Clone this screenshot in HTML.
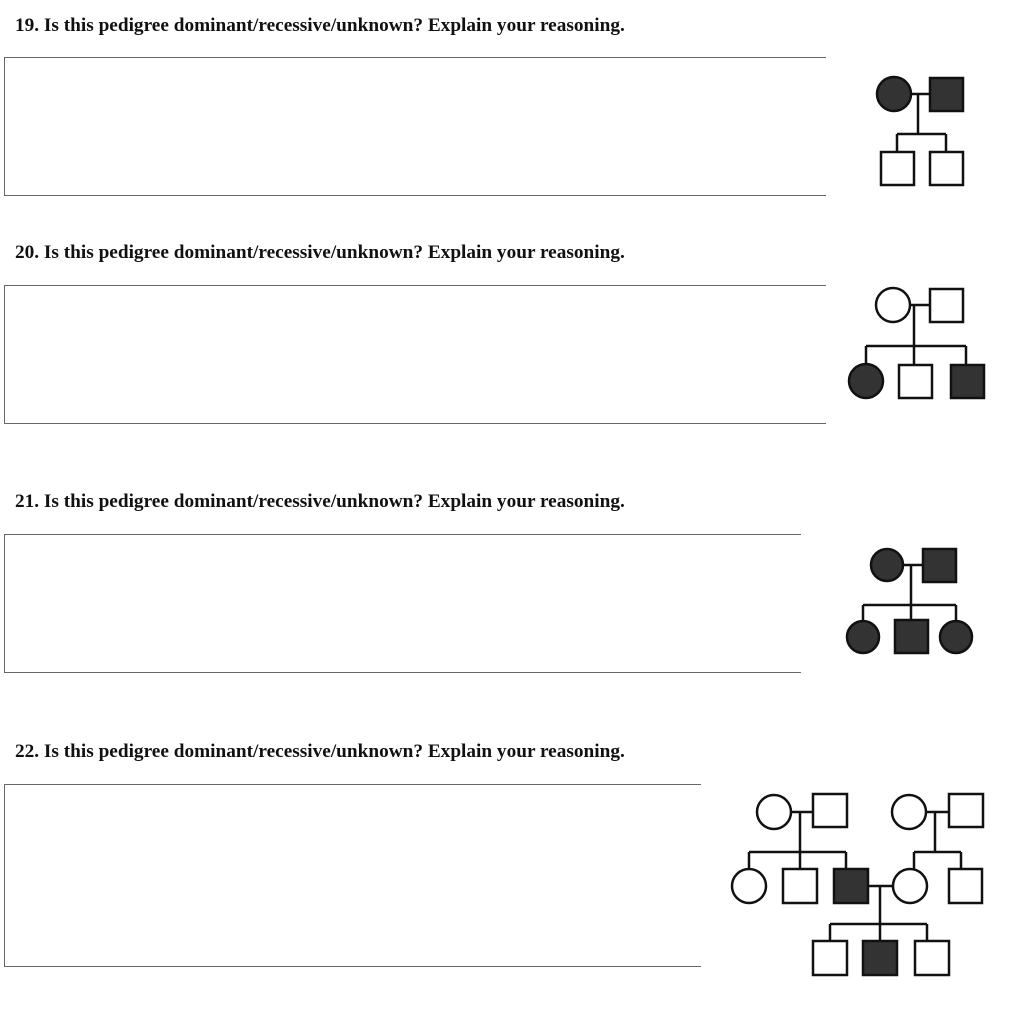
<!DOCTYPE html>
<html><head><style>
body{margin:0;background:#fff;width:1024px;height:1013px;overflow:hidden;position:relative;font-family:"Liberation Serif",serif;}
.q{position:absolute;left:15px;font-weight:bold;font-size:19.3px;line-height:22px;color:#111;white-space:nowrap;}
.b{position:absolute;left:4px;border-top:1px solid #666;border-bottom:1px solid #666;border-left:1px solid #666;}
svg{position:absolute;left:0;top:0;}
</style></head><body>
<div class="q" style="top:15px">19. Is this pedigree dominant/recessive/unknown? Explain your reasoning.</div>
<div class="b" style="top:57px;width:821px;height:137px"></div>
<div class="q" style="top:242px">20. Is this pedigree dominant/recessive/unknown? Explain your reasoning.</div>
<div class="b" style="top:285px;width:821px;height:137px"></div>
<div class="q" style="top:491px">21. Is this pedigree dominant/recessive/unknown? Explain your reasoning.</div>
<div class="b" style="top:534px;width:796px;height:137px"></div>
<div class="q" style="top:741px">22. Is this pedigree dominant/recessive/unknown? Explain your reasoning.</div>
<div class="b" style="top:784px;width:696px;height:181px"></div>
<svg width="1024" height="1013" stroke="#111" stroke-width="2.5" fill="none">
<path d="M911 94H929M918 94V134M897 134H946M897 134V151M946 134V151"/>
<circle cx="894" cy="94" r="17" fill="#333"/>
<rect x="930" y="78" width="33" height="33" fill="#333"/>
<rect x="881" y="152" width="33" height="33" fill="#fff"/>
<rect x="930" y="152" width="33" height="33" fill="#fff"/>
<path d="M910 305H929M914 305V346M866 346H966M866 346V364M914 346V364M966 346V364"/>
<circle cx="893" cy="305" r="17" fill="#fff"/>
<rect x="930" y="289" width="33" height="33" fill="#fff"/>
<circle cx="866" cy="381" r="17" fill="#333"/>
<rect x="899" y="365" width="33" height="33" fill="#fff"/>
<rect x="951" y="365" width="33" height="33" fill="#333"/>
<path d="M903 565H923M911 565V605M863 605H956M863 605V620M911 605V620M956 605V620"/>
<circle cx="887" cy="565" r="16" fill="#333"/>
<rect x="923" y="549" width="33" height="33" fill="#333"/>
<circle cx="863" cy="637" r="16" fill="#333"/>
<rect x="895" y="620" width="33" height="33" fill="#333"/>
<circle cx="956" cy="637" r="16" fill="#333"/>
<path d="M791 812H812M800 812V852M749 852H846M749 852V869M800 852V869M846 852V869"/>
<path d="M926 812H948M935 812V852M914 852H961M914 852V869M961 852V869"/>
<path d="M868 886H893M880 886V924M830 924H927M830 924V941M880 924V941M927 924V941"/>
<circle cx="774" cy="812" r="17" fill="#fff"/>
<rect x="813" y="794" width="34" height="33" fill="#fff"/>
<circle cx="909" cy="812" r="17" fill="#fff"/>
<rect x="949" y="794" width="34" height="33" fill="#fff"/>
<circle cx="749" cy="886" r="17" fill="#fff"/>
<rect x="783" y="869" width="34" height="34" fill="#fff"/>
<rect x="834" y="869" width="34" height="34" fill="#333"/>
<circle cx="910" cy="886" r="17" fill="#fff"/>
<rect x="949" y="869" width="33" height="34" fill="#fff"/>
<rect x="813" y="941" width="34" height="34" fill="#fff"/>
<rect x="863" y="941" width="34" height="34" fill="#333"/>
<rect x="915" y="941" width="34" height="34" fill="#fff"/>
</svg>
</body></html>
